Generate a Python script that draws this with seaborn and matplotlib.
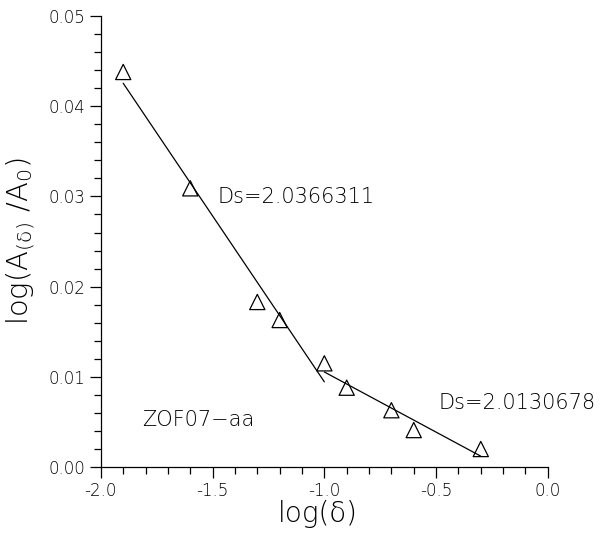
import numpy as np
import pandas as pd
import matplotlib
import matplotlib.pyplot as plt
import seaborn as sns
from matplotlib.ticker import MultipleLocator, FormatStrFormatter

plt.switch_backend('Agg')

# data
log_delta = [-1.9, -1.6, -1.3, -1.2, -1.0, -0.9, -0.7, -0.6, -0.3]
log_area = [0.0438, 0.0309, 0.0183, 0.0163, 0.0115, 0.0088, 0.0063, 0.0041, 0.0020]
segment = ['a', 'a', 'a', 'a', 'a', 'b', 'b', 'b', 'b']

labels = ['Ds=2.0366311', 'Ds=2.0130678', 'ZOF07\u2212aa']

df = pd.DataFrame({'x': log_delta, 'y': log_area, 'seg': segment})
# point -1.0 belongs to both fits
fit_a = df.iloc[:5]
fit_b = df.iloc[4:]

sns.set_theme(style='ticks')
plt.rcParams['font.family'] = ['DejaVu Sans']
plt.rcParams['font.weight'] = 'light'
plt.rcParams['axes.labelweight'] = 'light'
plt.rcParams['mathtext.fontset'] = 'custom'
plt.rcParams['mathtext.rm'] = 'DejaVu Sans:light'
plt.rcParams['mathtext.it'] = 'DejaVu Sans:light'
plt.rcParams['mathtext.default'] = 'rm'
plt.rcParams['text.color'] = 'black'
plt.rcParams['axes.labelcolor'] = 'black'

fig = plt.figure(figsize=(6.04, 5.35), dpi=100)
ax = fig.add_axes([0.167, 0.127, 0.74, 0.843])

sns.scatterplot(data=df, x='x', y='y', marker='^', s=120, facecolor='none',
                edgecolor='black', linewidth=0.9, ax=ax, zorder=3)
sns.regplot(data=fit_a, x='x', y='y', ci=None, scatter=False, truncate=True,
            line_kws={'color': 'black', 'lw': 0.9}, ax=ax)
sns.regplot(data=fit_b, x='x', y='y', ci=None, scatter=False, truncate=True,
            line_kws={'color': 'black', 'lw': 0.9}, ax=ax)

ax.set_xlim(-2.0, 0.0)
ax.set_ylim(0.0, 0.05)
ax.xaxis.set_major_locator(MultipleLocator(0.5))
ax.xaxis.set_minor_locator(MultipleLocator(0.1))
ax.yaxis.set_major_locator(MultipleLocator(0.01))
ax.yaxis.set_minor_locator(MultipleLocator(0.002))
ax.xaxis.set_major_formatter(FormatStrFormatter('%.1f'))
ax.yaxis.set_major_formatter(FormatStrFormatter('%.2f'))
ax.tick_params(which='major', length=8, width=0.9, labelsize=12, direction='out',
               colors='black', pad=3)
ax.tick_params(which='minor', length=5, width=0.9, direction='out', colors='black')
sns.despine(ax=ax)
for s in ['left', 'bottom']:
    ax.spines[s].set_linewidth(0.9)
    ax.spines[s].set_color('black')

ax.set_xlabel('log(\u03b4)', fontsize=20, fontweight='light')
ax.set_ylabel(r'$log(A_{(\delta)}\ /A_{0})$', fontsize=21)
ax.xaxis.set_label_coords(0.485, -0.072)
ax.yaxis.set_label_coords(-0.143, 0.5)

ax.text(-1.477, 0.0299, labels[0], fontsize=15, va='center', ha='left')
ax.text(-0.488, 0.0071, labels[1], fontsize=15, va='center', ha='left')
ax.text(-1.817, 0.0052, labels[2], fontsize=15, va='center', ha='left')

fig.savefig('out.png', dpi=100)
plt.close(fig)
